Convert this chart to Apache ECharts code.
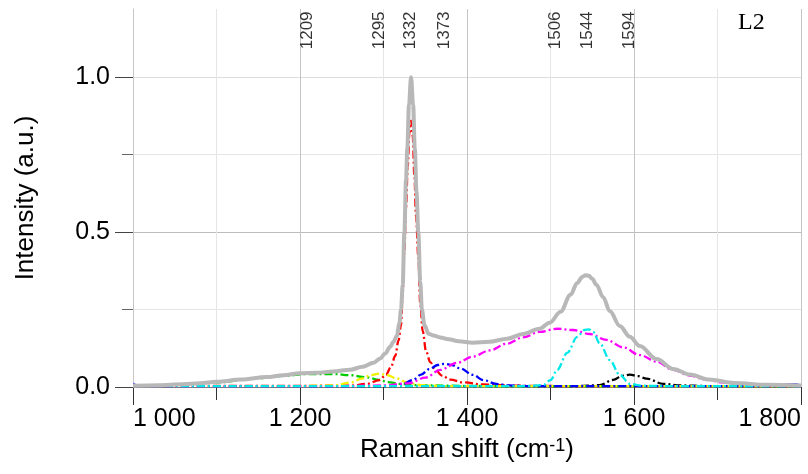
<!DOCTYPE html>
<html>
<head>
<meta charset="utf-8">
<script src="https://cdn.jsdelivr.net/npm/echarts@6/dist/echarts.min.js"></script>
<style>
  html, body { margin: 0; padding: 0; background: #ffffff; }
  #chart { width: 808px; height: 474px; }
</style>
</head>
<body>
<div id="chart"></div>
<script>
// Raman spectrum of sample L2 with its peak-fit decomposition.
// Each list holds [Raman shift (cm-1), normalised intensity] pairs.

const peakLabels = [1209, 1295, 1332, 1373, 1506, 1544, 1594];
const xTickValues = [1000, 1200, 1400, 1600, 1800];
const yTickValues = [0, 0.5, 1.0];
const yMinorTickValues = [0.25, 0.75];

// measured spectrum
const measured = [
  [1000,0.013],[1006,0.006],[1030,0.007],[1060,0.010],[1068,0.014],[1080,0.012],[1100,0.018],
  [1130,0.026],[1160,0.034],[1180,0.040],[1200,0.045],[1220,0.047],[1240,0.051],[1260,0.058],
  [1275,0.066],[1288,0.080],[1296,0.095],[1302,0.110],[1308,0.133],[1312,0.148],[1316,0.166],
  [1319,0.205],[1321,0.250],[1323,0.330],[1325,0.500],[1327,0.670],[1328.5,0.770],[1330.5,0.910],
  [1333,1.000],[1335.5,0.920],[1337.5,0.780],[1339.5,0.640],[1341.7,0.510],[1344,0.350],
  [1346,0.255],[1349,0.200],[1354,0.172],[1360,0.166],[1368,0.160],[1378,0.155],[1384,0.147],
  [1390,0.148],[1407,0.145],[1427,0.147],[1448,0.158],[1467,0.172],[1487,0.191],[1492,0.200],
  [1499,0.209],[1512,0.244],[1524,0.300],[1532,0.338],[1538,0.356],[1542,0.362],[1546,0.361],
  [1550,0.350],[1555,0.331],[1563,0.291],[1571,0.246],[1583,0.198],[1595,0.163],[1607,0.133],
  [1627,0.091],[1647,0.059],[1667,0.041],[1690,0.025],[1720,0.014],[1760,0.008],[1794,0.011],
  [1800,0.006]
];

// cumulative fit
const fitSum = [
  [1000,0.004],[1030,0.006],[1060,0.009],[1080,0.012],[1100,0.017],[1130,0.024],[1160,0.032],
  [1180,0.038],[1200,0.044],[1220,0.046],[1240,0.050],[1260,0.056],[1275,0.065],[1288,0.078],
  [1296,0.092],[1302,0.108],[1308,0.130],[1312,0.146],[1316,0.165],[1319,0.205],[1321,0.250],
  [1323,0.330],[1325,0.500],[1327,0.670],[1328.5,0.770],[1330.5,0.910],[1333,1.000],
  [1335.5,0.910],[1337.5,0.770],[1339.5,0.630],[1341.7,0.500],[1344,0.340],[1346,0.250],
  [1349,0.200],[1354,0.172],[1360,0.166],[1368,0.160],[1378,0.154],[1390,0.148],[1407,0.143],
  [1427,0.146],[1448,0.156],[1467,0.171],[1487,0.188],[1499,0.207],[1512,0.243],[1524,0.298],
  [1532,0.336],[1538,0.355],[1542,0.361],[1546,0.359],[1550,0.349],[1555,0.330],[1563,0.290],
  [1571,0.245],[1583,0.197],[1595,0.162],[1607,0.132],[1627,0.090],[1647,0.058],[1667,0.040],
  [1690,0.024],[1720,0.013],[1760,0.007],[1800,0.005]
];

// fitted bands
const band1209 = [
  [1000,0.003],[1050,0.006],[1100,0.015],[1150,0.028],[1180,0.036],[1209,0.042],[1240,0.042],
  [1260,0.038],[1280,0.031],[1295,0.023],[1305,0.016],[1320,0.010],[1340,0.006],[1380,0.004],
  [1450,0.003],[1800,0.003]
];
const band1295 = [
  [1000,0.003],[1200,0.003],[1240,0.005],[1260,0.014],[1275,0.028],[1285,0.038],[1295,0.043],
  [1305,0.038],[1315,0.028],[1328,0.015],[1345,0.006],[1370,0.003],[1800,0.003]
];
const band1332 = [
  [1000,0.003],[1260,0.004],[1280,0.010],[1295,0.022],[1303,0.040],[1309,0.065],[1314,0.100],
  [1318,0.150],[1321,0.200],[1323,0.300],[1325,0.440],[1327,0.580],[1329,0.710],[1331,0.820],
  [1333,0.860],[1335,0.810],[1337,0.680],[1339,0.550],[1341.7,0.420],[1344,0.270],[1347,0.180],
  [1351,0.115],[1356,0.080],[1362,0.056],[1370,0.037],[1380,0.024],[1395,0.015],[1420,0.008],
  [1460,0.004],[1520,0.003],[1800,0.003]
];
const band1373 = [
  [1000,0.003],[1300,0.003],[1320,0.006],[1335,0.022],[1345,0.040],[1355,0.058],[1365,0.071],
  [1373,0.075],[1382,0.071],[1392,0.060],[1407,0.039],[1420,0.022],[1435,0.010],[1450,0.005],
  [1480,0.003],[1800,0.003]
];
const band1506 = [
  [1000,0.003],[1250,0.003],[1300,0.005],[1330,0.012],[1350,0.030],[1368,0.055],[1388,0.078],
  [1407,0.098],[1427,0.118],[1448,0.140],[1467,0.160],[1487,0.178],[1508,0.188],[1527,0.184],
  [1547,0.171],[1567,0.152],[1587,0.128],[1607,0.103],[1627,0.082],[1647,0.055],[1667,0.037],
  [1685,0.025],[1705,0.015],[1740,0.007],[1800,0.003]
];
const band1544 = [
  [1000,0.003],[1470,0.003],[1491,0.006],[1500,0.022],[1508,0.055],[1520,0.110],[1532,0.162],
  [1541,0.184],[1546,0.186],[1551,0.178],[1559,0.141],[1571,0.087],[1583,0.039],[1595,0.010],
  [1610,0.004],[1640,0.003],[1800,0.003]
];
const band1594 = [
  [1000,0.003],[1530,0.003],[1559,0.006],[1575,0.023],[1586,0.036],[1595,0.040],[1605,0.035],
  [1615,0.027],[1635,0.010],[1655,0.005],[1690,0.003],[1800,0.003]
];

const SANS = 'Liberation Sans, Arial, Helvetica, sans-serif';
const LABEL_Y = 1.09;  // baseline height of the rotated band-position labels
const dashDot = [8, 3, 2, 3];

function bandSeries(name, data, color) {
  return {
    name: name, type: 'line', data: data, showSymbol: false, smooth: 0.35,
    smoothMonotone: 'x', silent: true, z: 3,
    lineStyle: { color: color, width: 2.3, type: dashDot }
  };
}

function thousands(v) {
  const s = String(Math.round(v));
  return s.length > 3 ? s.slice(0, s.length - 3) + ' ' + s.slice(-3) : s;
}

const chart = echarts.init(document.getElementById('chart'), null, { renderer: 'canvas' });

chart.setOption({
  animation: false,
  backgroundColor: '#ffffff',
  title: {
    text: 'L2', left: 738, top: 11, padding: 0,
    textStyle: { fontFamily: 'Liberation Serif, Times New Roman, serif', fontSize: 24,
                 fontWeight: 'normal', color: '#000' }
  },
  grid: { left: 133, right: 7, top: 9, bottom: 87, containLabel: false, outerBoundsMode: 'none' },
  xAxis: {
    type: 'value', min: 1000, max: 1800, interval: 200, position: 'bottom',
    name: '{a|Raman shift (cm}{b|-1}{a|)}',
    nameLocation: 'middle', nameGap: 49,
    nameTextStyle: {
      rich: {
        a: { fontFamily: SANS, fontSize: 26, color: '#000' },
        b: { fontFamily: SANS, fontSize: 18, color: '#000', verticalAlign: 'top' }
      }
    },
    axisLine: { show: true, lineStyle: { color: '#7a7a7a', width: 1 } },
    axisTick: { show: true, length: 18, customValues: xTickValues, lineStyle: { color: '#333', width: 1 } },
    minorTick: { show: true, splitNumber: 2, length: 13, lineStyle: { color: '#333', width: 1 } },
    splitLine: { show: true, lineStyle: { color: '#c4c4c4', width: 1 } },
    minorSplitLine: { show: true, lineStyle: { color: '#e6e6e6', width: 1 } },
    axisLabel: {
      customValues: xTickValues, margin: 20, fontFamily: SANS, fontSize: 25, color: '#000',
      formatter: thousands, alignMinLabel: 'left', alignMaxLabel: 'right'
    }
  },
  yAxis: [
    {
      type: 'value', min: 0, max: 1.22, interval: 0.5, position: 'left',
      name: 'Intensity (a.u.)', nameLocation: 'middle', nameGap: 94,
      nameTextStyle: { fontFamily: SANS, fontSize: 26, color: '#000' },
      axisLine: { show: true, lineStyle: { color: '#c6c6c6', width: 1 } },
      axisTick: { show: true, length: 18, customValues: yTickValues, lineStyle: { color: '#444', width: 1 } },
      axisLabel: {
        customValues: yTickValues, margin: 23, fontFamily: SANS, fontSize: 25, color: '#000',
        formatter: v => v.toFixed(1)
      },
      splitLine: { show: true, lineStyle: { color: ['rgba(0,0,0,0)', '#bdbdbd', '#dedede', 'rgba(0,0,0,0)'], width: 1 } }
    },
    {
      type: 'value', min: 0, max: 1.22, interval: 0.25, position: 'left',
      axisLine: { show: false },
      axisTick: { show: true, length: 11, customValues: yMinorTickValues, lineStyle: { color: '#666', width: 1 } },
      axisLabel: { show: false },
      splitLine: { show: true, lineStyle: { color: '#e6e6e6', width: 1 } }
    }
  ],
  series: [
    bandSeries('1594', band1594, '#000000'),
    bandSeries('1209', band1209, '#00cc00'),
    bandSeries('1332', band1332, '#ff0000'),
    bandSeries('1295', band1295, '#f2f200'),
    bandSeries('1373', band1373, '#0000ff'),
    bandSeries('1506', band1506, '#ff00ff'),
    bandSeries('1544', band1544, '#00e8e8'),
    {
      name: 'measured', type: 'line', data: measured, showSymbol: false, smooth: 0.3,
      smoothMonotone: 'x', silent: true, z: 4,
      lineStyle: { color: '#2a2aff', width: 1 }
    },
    {
      name: 'fit', type: 'line', data: fitSum, showSymbol: false, smooth: 0.35,
      smoothMonotone: 'x', silent: true, z: 5,
      lineStyle: { color: '#b8b8b8', width: 4 }
    },
    {
      name: 'positions', type: 'scatter', symbolSize: 0, silent: true, z: 6,
      data: peakLabels.map(p => [p, LABEL_Y]),
      label: {
        show: true, position: 'inside', rotate: 90, align: 'left', verticalAlign: 'middle',
        fontFamily: SANS, fontSize: 17, color: '#000',
        formatter: p => String(p.value[0])
      }
    }
  ]
});
</script>
</body>
</html>
